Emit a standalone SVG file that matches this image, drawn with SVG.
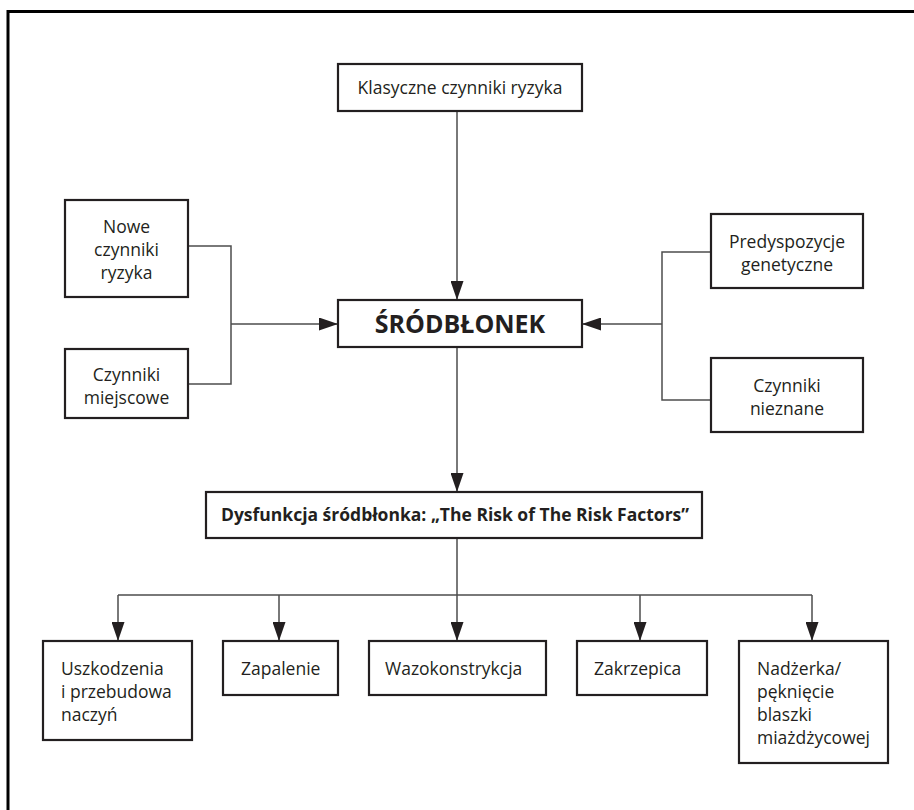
<svg xmlns="http://www.w3.org/2000/svg" width="914" height="810" viewBox="0 0 914 810">
  <style>
    .box { fill: #ffffff; stroke: #231f20; stroke-width: 2.2; }
    .lbl { font-family: "Open Sans", "Noto Sans", "DejaVu Sans", sans-serif; font-size: 17.5px; fill: #231f20; }
    .mid { text-anchor: middle; }
    .bold { font-weight: bold; }
    .wire { fill: none; stroke: #4d4d4d; stroke-width: 1.5; }
  </style>
  <defs>
    <marker id="head" markerUnits="userSpaceOnUse" markerWidth="19" markerHeight="13" refX="19" refY="6.5" orient="auto">
      <path d="M0,0 L19,6.5 L0,13 z" fill="#231f20"/>
    </marker>
  </defs>

  <rect width="914" height="810" fill="#ffffff"/>
  <!-- page frame, open to the right and bottom -->
  <rect x="8" y="11.5" width="960" height="900" fill="none" stroke="#000000" stroke-width="3"/>

  <g id="connectors">
    <path class="wire" d="M457,111 V300" marker-end="url(#head)"/>
    <path class="wire" d="M188,246 H231 V384 H188"/>
    <path class="wire" d="M231,324 H338" marker-end="url(#head)"/>
    <path class="wire" d="M711,252 H662 V400 H711"/>
    <path class="wire" d="M662,324 H582" marker-end="url(#head)"/>
    <path class="wire" d="M457,347 V492" marker-end="url(#head)"/>
    <path class="wire" d="M457,538 V595"/>
    <path class="wire" d="M118,595 H812"/>
    <path class="wire" d="M118,595 V641" marker-end="url(#head)"/>
    <path class="wire" d="M279,595 V641" marker-end="url(#head)"/>
    <path class="wire" d="M457,595 V641" marker-end="url(#head)"/>
    <path class="wire" d="M640,595 V641" marker-end="url(#head)"/>
    <path class="wire" d="M812,595 V641" marker-end="url(#head)"/>
  </g>

  <g id="klasyczne">
    <rect class="box" x="338" y="64" width="244" height="47"/>
    <text class="lbl mid" x="460" y="93.5">Klasyczne czynniki ryzyka</text>
  </g>

  <g id="nowe">
    <rect class="box" x="65" y="200" width="123" height="97"/>
    <text class="lbl mid" x="126.5" y="233">Nowe</text>
    <text class="lbl mid" x="126.5" y="256">czynniki</text>
    <text class="lbl mid" x="126.5" y="279">ryzyka</text>
  </g>

  <g id="miejscowe">
    <rect class="box" x="65" y="349" width="123" height="69"/>
    <text class="lbl mid" x="126.5" y="381">Czynniki</text>
    <text class="lbl mid" x="126.5" y="404">miejscowe</text>
  </g>

  <g id="srodblonek">
    <rect class="box" x="338" y="300" width="244" height="47"/>
    <text class="lbl mid bold" x="460" y="332.5" style="font-size:25px">ŚRÓDBŁONEK</text>
  </g>

  <g id="genetyczne">
    <rect class="box" x="711" y="214" width="152" height="74"/>
    <text class="lbl mid" x="787" y="248">Predyspozycje</text>
    <text class="lbl mid" x="787" y="271">genetyczne</text>
  </g>

  <g id="nieznane">
    <rect class="box" x="711" y="358" width="152" height="74"/>
    <text class="lbl mid" x="787" y="392">Czynniki</text>
    <text class="lbl mid" x="787" y="415">nieznane</text>
  </g>

  <g id="dysfunkcja">
    <rect class="box" x="206" y="492" width="496" height="46"/>
    <text class="lbl mid bold" x="455" y="521" style="font-size:17.5px">Dysfunkcja śródbłonka: „The Risk of The Risk Factors”</text>
  </g>

  <g id="uszkodzenia">
    <rect class="box" x="43" y="641" width="149" height="99"/>
    <text class="lbl" x="61" y="675">Uszkodzenia</text>
    <text class="lbl" x="61" y="698">i przebudowa</text>
    <text class="lbl" x="61" y="721">naczyń</text>
  </g>

  <g id="zapalenie">
    <rect class="box" x="223" y="641" width="115" height="54"/>
    <text class="lbl" x="241" y="675">Zapalenie</text>
  </g>

  <g id="wazokonstrykcja">
    <rect class="box" x="369" y="641" width="177" height="54"/>
    <text class="lbl" x="385" y="675">Wazokonstrykcja</text>
  </g>

  <g id="zakrzepica">
    <rect class="box" x="577" y="641" width="130" height="54"/>
    <text class="lbl" x="594" y="675">Zakrzepica</text>
  </g>

  <g id="nadzerka">
    <rect class="box" x="739" y="641" width="149" height="122"/>
    <text class="lbl" x="757" y="675">Nadżerka/</text>
    <text class="lbl" x="757" y="698">pęknięcie</text>
    <text class="lbl" x="757" y="721">blaszki</text>
    <text class="lbl" x="757" y="744">miażdżycowej</text>
  </g>
</svg>
